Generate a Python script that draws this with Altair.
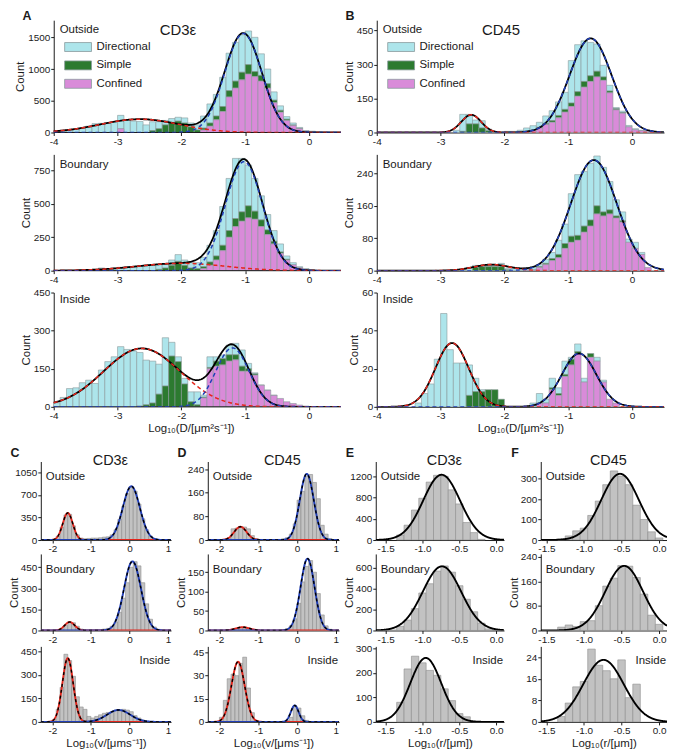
import altair as alt
import numpy as np
import pandas as pd

FONT = "Liberation Sans"
CYAN = "#ade5eb"
GREEN = "#2c7a30"
MAGENTA = "#d98bd9"
BAR_EDGE = "#8a9a9c"
GRAY = "#c2c2c2"
GRAY_EDGE = "#8c8c8c"
RED = "#e4261c"
BLUE = "#213fb8"
INK = "#1a1a1a"
MINUS_EXPR = "replace(datum.label, '\u2212', '-')"

CATS = ["Directional", "Simple", "Confined"]
BIN_W = 0.1

# ---------------- bin left edges ----------------
D_EDGES = [round(-4.0 + 0.1 * i, 1) for i in range(45)]    # log10 D, panels A/B
V_EDGES = [round(-2.1 + 0.1 * i, 1) for i in range(30)]    # log10 v, panels C/D
R_EDGES = [round(-1.55 + 0.1 * i, 2) for i in range(16)]   # log10 r, panels E/F

# ---------------- A: CD3e, log10 D ----------------
A_OUT_DIR = [15, 25, 40, 55, 70, 100, 140, 145, 150, 170, 210, 200, 180, 175, 120,
             140, 110, 70, 60, 60, 80, 60, 80, 190, 300, 340, 460, 590, 610, 590,
             530, 540, 340, 230, 130, 70, 40, 30, 15, 10, 15, 10, 5, 0, 0]
A_OUT_SIMP = [0] * 15 + [30, 60, 120, 160, 180, 150, 90, 40, 30, 50, 60, 80, 100, 110,
                         120, 150, 80, 90, 70, 40, 30, 20, 10, 5] + [0] * 6
A_OUT_CONF = [0] * 10 + [60] + [0] * 12 + [40, 100, 200, 330, 560, 700, 830, 920, 880, 810,
                                        700, 470, 320, 190, 110, 60, 20, 5, 0, 0, 0, 0]

A_BND_DIR = [0, 0, 0, 0, 5, 5, 10, 20, 15, 20, 25, 30, 30, 35, 40, 40, 35, 30, 40, 50,
             40, 40, 45, 70, 125, 190, 290, 390, 450, 400, 305, 245, 180, 115, 80, 60, 25,
             15, 8, 5, 1, 0, 0, 0, 0]
A_BND_SIMP = [0] * 16 + [10, 20, 40, 70, 40, 20, 15, 15, 25, 30, 40, 50, 60, 70, 90, 60,
                         50, 35, 20, 10, 5] + [0] * 8
A_BND_CONF = [0] * 23 + [15, 40, 80, 150, 250, 330, 370, 395, 385, 330, 270, 200, 130, 80,
                         45, 22, 10, 4] + [0] * 4

A_IN_DIR = [16, 37, 72, 75, 95, 105, 92, 145, 178, 197, 237, 226, 220, 211, 176, 165, 118,
            190, 54, 19, 22, 39, 51, 8, 42, 17, 14, 38, 45, 64, 21, 4, 1, 1, 1, 0,
            0, 0, 0, 0, 0, 0, 0, 0, 0]
A_IN_SIMP = [0] * 13 + [3, 8, 15, 50, 82, 200, 178, 90, 20, 8, 3, 5, 20, 25, 25, 20, 20,
                        10, 5] + [0] * 13
A_IN_CONF = [0] * 23 + [35, 150, 160, 165, 180, 185, 140, 140, 125, 85, 65, 45, 33, 20, 13,
                        7, 3] + [0] * 5

# ---------------- B: CD45, log10 D ----------------
B_OUT_DIR = [0] * 12 + [10, 75, 42, 17, 32, 7, 0, 0, 5, 5, 10, 15, 20, 22, 33, 43, 60, 75,
                        187, 207, 179, 147, 120, 51, 25, 5, 6, 6, 5, 2, 0] + [0] * 2
B_OUT_SIMP = [0] * 13 + [5, 38, 38, 20, 8] + [0] * 7 + [3, 5, 8, 10, 12, 15, 20, 25, 25, 25,
                                                      15, 8, 5, 3] + [0] * 6
B_OUT_CONF = [0] * 23 + [5, 10, 20, 35, 45, 65, 90, 115, 160, 200, 225, 245, 230, 175, 100,
                         85, 25, 12, 8, 5] + [0] * 2

B_BND_DIR = [0] * 13 + [3, 8, 5, 2, 2, 3, 8, 3, 5, 5, 5, 8, 5, 10, 15, 35, 48, 105, 150,
                        135, 140, 123, 110, 70, 40, 22, 8, 15, 5, 0] + [0] * 2
B_BND_SIMP = [0] * 15 + [8, 10, 10, 10, 10, 2] + [0] * 4 + [2, 3, 5, 8, 12, 15, 12, 15, 15,
                                                          20, 10, 10, 5, 3] + [0] * 6
B_BND_CONF = [0] * 23 + [2, 2, 8, 15, 25, 32, 55, 70, 75, 95, 110, 140, 135, 140, 130, 120,
                         70, 55, 40, 8] + [0] * 2

B_IN_DIR = [0] * 6 + [2, 7, 12, 25, 49, 30, 23, 23, 16, 7, 1] + [0] * 7 + \
           [2, 5, 2, 5, 3, 7, 1, 4, 2, 0, 2, 1] + [0] * 9
B_IN_SIMP = [0] * 14 + [6, 8, 8, 9, 9, 4] + [0] * 7 + [1, 1, 1, 3, 1, 0, 2] + [0] * 11
B_IN_CONF = [0] * 25 + [2, 2, 9, 6, 16, 22, 28, 13, 26, 24, 13, 4, 2] + [0] * 7

# ---------------- C/D: log10 v ----------------
C_OUT = [0, 10, 60, 200, 390, 400, 220, 80, 30, 20, 25, 30, 30, 35, 45, 50, 80, 160, 320,
         520, 720, 830, 760, 560, 330, 160, 60, 20, 5, 0]
C_BND = [0, 0, 3, 12, 35, 58, 55, 30, 10, 4, 3, 4, 5, 6, 10, 15, 30, 60, 130, 230, 340, 450,
         490, 460, 340, 190, 80, 25, 8, 0]
C_IN = [0, 15, 80, 220, 430, 390, 290, 160, 95, 80, 35, 25, 35, 45, 55, 60, 65, 75, 70, 80,
        75, 65, 40, 25, 12, 4, 0, 0, 0, 0]
D_OUT = [0, 0, 3, 8, 38, 40, 45, 44, 38, 15, 5, 2, 1, 0, 1, 1, 2, 4, 8, 20, 55, 135, 165,
         215, 222, 195, 140, 50, 20, 5]
D_BND = [0, 0, 0, 0, 3, 5, 8, 8, 6, 3, 1, 0, 0, 0, 0, 0, 0, 2, 5, 12, 30, 70, 125, 165, 180,
         150, 95, 40, 12, 3]
D_IN = [0, 3, 14, 28, 31, 30, 38, 42, 22, 6, 1, 0, 0, 0, 0, 0, 0, 0, 1, 3, 10, 9, 4, 1, 0,
        0, 0, 0, 0, 0]

# ---------------- E/F: log10 r ----------------
E_OUT = [0, 0, 95, 280, 565, 787, 1092, 1220, 1200, 946, 680, 330, 140, 13, 0, 0]
E_BND = [0, 5, 40, 100, 210, 360, 449, 571, 620, 560, 430, 300, 180, 70, 15, 0]
E_IN = [0, 0, 80, 216, 268, 241, 210, 190, 135, 87, 34, 21, 0, 0, 0, 0]
F_OUT = [0, 0, 5, 20, 45, 58, 120, 190, 270, 337, 312, 270, 170, 100, 40, 10]
F_BND = [0, 0, 11, 18, 13, 29, 32, 81, 145, 171, 212, 210, 173, 119, 50, 20]
F_IN = [0, 0, 2, 7, 13, 15, 27, 21, 19, 16, 23, 9, 14, 0, 0, 0]

# ---------------- Gaussian fit parameters (amplitude, mean, sd) ----------------
FIT_A = [[(210, -2.65, 0.62), (1560, -1.03, 0.29)],
         [(55, -2.0, 0.68), (815, -1.02, 0.29)],
         [(230, -2.62, 0.60), (232, -1.20, 0.26)]]
FIT_B = [[(78, -2.52, 0.155), (415, -0.65, 0.33)],
         [(15, -2.2, 0.28), (273, -0.60, 0.36)],
         [(33.5, -2.82, 0.26), (28, -0.83, 0.27)]]
FIT_C = [[(420, -1.6, 0.13), (835, 0.05, 0.22)],
         [(60, -1.55, 0.13), (492, 0.08, 0.22)],
         [(405, -1.6, 0.14), (76, -0.28, 0.30)]]
FIT_D = [[(45, -1.46, 0.16), (224, 0.25, 0.18)],
         [(8.5, -1.4, 0.18), (185, 0.27, 0.18)],
         [(39, -1.52, 0.17), (10.7, -0.06, 0.10)]]
FIT_E = [[(1230, -0.74, 0.25)], [(616, -0.735, 0.26)], [(261, -0.955, 0.21)]]
FIT_F = [[(323, -0.52, 0.25)], [(211, -0.465, 0.25)], [(23, -0.74, 0.27)]]

ONE = pd.DataFrame({"k": [0]})


def gauss(x, a, m, s):
    return a * np.exp(-0.5 * ((x - m) / s) ** 2)


def curve_frames(fits, lo, hi):
    xs = np.linspace(lo, hi, 400)
    comps = [gauss(xs, *p) for p in fits]
    total = np.sum(comps, axis=0)
    frames = [pd.DataFrame({"x0": xs, "y0": c}) for c in comps]
    return frames, pd.DataFrame({"x0": xs, "y0": total})


def text(txt, x, y, size=11.5, align="left", bold=False, color=INK):
    kw = dict(text=txt, font=FONT, fontSize=size, align=align, baseline="middle", color=color)
    if bold:
        kw["fontWeight"] = "bold"
    return alt.Chart(ONE).mark_text(**kw).encode(x=alt.value(x), y=alt.value(y))


def top_panel(dirv, simp, conf, ydom, yticks, fits, label, label_y, width, height,
              shift=0, legend=False, title=None, letter=None, xtitle=None):
    n = len(D_EDGES)
    x1 = [round(e + BIN_W, 2) for e in D_EDGES]
    df = pd.DataFrame({
        "x0": D_EDGES * 3,
        "x1": x1 * 3,
        "count": list(dirv) + list(simp) + list(conf),
        "cat": ["Directional"] * n + ["Simple"] * n + ["Confined"] * n,
        "ord": [2] * n + [1] * n + [0] * n,
    })
    xlo = -4.0 - shift * 4.5 / (width - shift) if shift else -4.0
    xscale = alt.Scale(domain=[xlo, 0.5], nice=False, zero=False)
    yscale = alt.Scale(domain=list(ydom), nice=False)
    xk = dict(values=[-4, -3, -2, -1, 0], format="d", labelExpr=MINUS_EXPR,
              title=xtitle, titlePadding=2)
    if shift:
        xk["domain"] = False
    xaxis = alt.Axis(**xk)
    yk = dict(values=yticks, format="d", title="Count", titlePadding=2)
    if shift:
        yk["offset"] = -shift
    yaxis = alt.Axis(**yk)
    X = alt.X("x0:Q", scale=xscale, axis=xaxis)
    Y = alt.Y("y0:Q", scale=yscale, axis=yaxis)

    bars = alt.Chart(df).transform_filter("datum.count > 0").transform_stack(
        stack="count", groupby=["x0"], as_=["y0", "y1"],
        sort=[alt.SortField("ord", order="ascending")]
    ).mark_rect(stroke=BAR_EDGE, strokeWidth=0.6).encode(
        x=X, x2="x1:Q", y=Y, y2="y1:Q",
        color=alt.Color("cat:N", scale=alt.Scale(domain=CATS, range=[CYAN, GREEN, MAGENTA]),
                        legend=None),
    )
    layers = [bars]
    if shift:
        base = pd.DataFrame({"x0": [-4.0], "x1": [0.5], "y0": [0.0]})
        layers.append(alt.Chart(base).mark_rule(color=INK, strokeWidth=1).encode(
            x=X, x2="x1:Q", y=Y))
    comps, total = curve_frames(fits, -4.0, 0.5)
    layers.append(alt.Chart(total).mark_line(color="black", strokeWidth=1.8, clip=True)
                  .encode(x=X, y=Y))
    for cdf, col in zip(comps, [RED, BLUE]):
        layers.append(alt.Chart(cdf).mark_line(color=col, strokeWidth=1.5, strokeDash=[4, 3],
                                               clip=True).encode(x=X, y=Y))
    layers.append(text(label, 6 + shift, label_y))
    if title:
        layers.append(text(title, 125 + shift, 10, size=15, align="center"))
    if letter:
        layers.append(text(letter, -27 + shift, -4, size=12.5, align="center", bold=True))
    if legend:
        for k, (name, col) in enumerate(zip(CATS, [CYAN, GREEN, MAGENTA])):
            yc = [27, 45.5, 64][k]
            layers.append(alt.Chart(ONE).mark_rect(fill=col, stroke=BAR_EDGE, strokeWidth=0.8)
                          .encode(x=alt.value(11 + shift), x2=alt.value(38 + shift),
                                  y=alt.value(yc - 4.5), y2=alt.value(yc + 4.5)))
            layers.append(text(name, 43 + shift, yc, size=11.5))
    return alt.layer(*layers).properties(width=width, height=height)


def bot_panel(edges, counts, ydom, yticks, xdom, xticks, fmt, fits, label, width, height,
              count_title=False, xtitle=None, title=None, title_x=70, letter=None):
    x1 = [round(e + BIN_W, 2) for e in edges]
    df = pd.DataFrame({"x0": edges, "x1": x1, "count": counts})
    xscale = alt.Scale(domain=list(xdom), nice=False, zero=False)
    yscale = alt.Scale(domain=list(ydom), nice=False)
    xaxis = alt.Axis(values=xticks, format=fmt, labelExpr=MINUS_EXPR, title=xtitle,
                     titlePadding=2)
    yaxis = alt.Axis(values=yticks, format="d", title="Count" if count_title else None,
                     titlePadding=1)
    X = alt.X("x0:Q", scale=xscale, axis=xaxis)
    Y = alt.Y("y0:Q", scale=yscale, axis=yaxis)
    bars = alt.Chart(df).transform_filter("datum.count > 0").transform_stack(
        stack="count", groupby=["x0"], as_=["y0", "y1"]
    ).mark_rect(fill=GRAY, stroke=GRAY_EDGE, strokeWidth=0.6).encode(
        x=X, x2="x1:Q", y=Y, y2="y1:Q")
    layers = [bars]
    comps, total = curve_frames(fits, xdom[0], xdom[1])
    if len(fits) > 1:
        for cdf, col in zip(comps, [RED, BLUE]):
            layers.append(alt.Chart(cdf).mark_line(color=col, strokeWidth=1.9, clip=True)
                          .encode(x=X, y=Y))
        layers.append(alt.Chart(total).mark_line(color="black", strokeWidth=1.4,
                                                 strokeDash=[3, 3], clip=True)
                      .encode(x=X, y=Y))
    else:
        layers.append(alt.Chart(total).mark_line(color="black", strokeWidth=1.9, clip=True)
                      .encode(x=X, y=Y))
    if label == "Inside":
        layers.append(text(label, width - 1, 15, align="right"))
    else:
        layers.append(text(label, 5, 16))
    if title:
        layers.append(text(title, title_x, 0, size=14.5, align="center"))
    if letter:
        layers.append(text(letter, -26, -9, size=12.5, align="center", bold=True))
    return alt.layer(*layers).properties(width=width, height=height)


XT_D = "Log\u2081\u2080(D/[\u03bcm\u00b2s\u207b\u00b9])"
XT_V = "Log\u2081\u2080(v/[\u03bcms\u207b\u00b9])"
XT_R = "Log\u2081\u2080(r/[\u03bcm])"

WA, WB = 302, 289
HT = [113, 117, 115]
SH = 13

A1 = top_panel(A_OUT_DIR, A_OUT_SIMP, A_OUT_CONF, (0, 1770), [0, 500, 1000, 1500], FIT_A[0],
               "Outside", 10, WA, HT[0], shift=SH, legend=True, title="CD3\u03b5", letter="A")
A2 = top_panel(A_BND_DIR, A_BND_SIMP, A_BND_CONF, (0, 870), [0, 250, 500, 750], FIT_A[1],
               "Boundary", 11, WA, HT[1], shift=SH)
A3 = top_panel(A_IN_DIR, A_IN_SIMP, A_IN_CONF, (0, 450), [0, 150, 300, 450], FIT_A[2],
               "Inside", 8, WA, HT[2], shift=SH, xtitle=XT_D)
B1 = top_panel(B_OUT_DIR, B_OUT_SIMP, B_OUT_CONF, (0, 495), [0, 150, 300, 450], FIT_B[0],
               "Outside", 10, WB, HT[0], legend=True, title="CD45", letter="B")
B2 = top_panel(B_BND_DIR, B_BND_SIMP, B_BND_CONF, (0, 287), [0, 80, 160, 240], FIT_B[1],
               "Boundary", 11, WB, HT[1])
B3 = top_panel(B_IN_DIR, B_IN_SIMP, B_IN_CONF, (0, 60), [0, 20, 40, 60], FIT_B[2],
               "Inside", 8, WB, HT[2], xtitle=XT_D)

HB = [79, 77, 76]
WC, WD, WE, WF = 131, 132, 129, 127
VX = (-2.3, 1.08)
VT = [-2, -1, 0, 1]
RT = [-1.5, -1.0, -0.5, 0.0]
EX = (-1.634, 0.107)
FX = (-1.575, 0.105)

C1 = bot_panel(V_EDGES, C_OUT, (0, 1220), [0, 350, 700, 1050], VX, VT, "d", FIT_C[0], "Outside",
               WC, HB[0], title="CD3\u03b5", title_x=70, letter="C")
C2 = bot_panel(V_EDGES, C_BND, (0, 545), [0, 150, 300, 450], VX, VT, "d", FIT_C[1], "Boundary",
               WC, HB[1], count_title=True)
C3 = bot_panel(V_EDGES, C_IN, (0, 480), [0, 150, 300, 450], VX, VT, "d", FIT_C[2], "Inside",
               WC, HB[2], xtitle=XT_V)
D1 = bot_panel(V_EDGES, D_OUT, (0, 266), [0, 80, 160, 240], VX, VT, "d", FIT_D[0], "Outside",
               WD, HB[0], title="CD45", title_x=75, letter="D")
D2 = bot_panel(V_EDGES, D_BND, (0, 197), [0, 50, 100, 150], VX, VT, "d", FIT_D[1], "Boundary",
               WD, HB[1], count_title=True)
D3 = bot_panel(V_EDGES, D_IN, (0, 49), [0, 15, 30, 45], VX, VT, "d", FIT_D[2], "Inside",
               WD, HB[2], xtitle=XT_V)
E1 = bot_panel(R_EDGES, E_OUT, (0, 1480), [0, 400, 800, 1200], EX, RT, ".1f", FIT_E[0], "Outside",
               WE, HB[0], title="CD3\u03b5", title_x=69, letter="E")
E2 = bot_panel(R_EDGES, E_BND, (0, 735), [0, 200, 400, 600], EX, RT, ".1f", FIT_E[1], "Boundary",
               WE, HB[1], count_title=True)
E3 = bot_panel(R_EDGES, E_IN, (0, 308), [0, 100, 200, 300], EX, RT, ".1f", FIT_E[2], "Inside",
               WE, HB[2], xtitle=XT_R)
F1 = bot_panel(R_EDGES, F_OUT, (0, 383), [0, 100, 200, 300], FX, RT, ".1f", FIT_F[0], "Outside",
               WF, HB[0], title="CD45", title_x=68, letter="F")
F2 = bot_panel(R_EDGES, F_BND, (0, 250), [0, 80, 160, 240], FX, RT, ".1f", FIT_F[1], "Boundary",
               WF, HB[1], count_title=True)
F3 = bot_panel(R_EDGES, F_IN, (0, 28), [0, 8, 16, 24], FX, RT, ".1f", FIT_F[2], "Inside",
               WF, HB[2], xtitle=XT_R)

r1, r2, r3 = [alt.hconcat(a, b, spacing=36, bounds="flush")
              for a, b in [(A1, B1), (A2, B2), (A3, B3)]]
bot_rows = [alt.hconcat(c, d, e, f, spacing=37, bounds="flush")
            for c, d, e, f in [(C1, D1, E1, F1), (C2, D2, E2, F2), (C3, D3, E3, F3)]]
top_block = alt.vconcat(alt.vconcat(r1, r2, spacing=8), r3, spacing=3)
bot_block = alt.vconcat(*bot_rows, spacing=-2)

chart = alt.vconcat(top_block, bot_block, spacing=12).properties(
    padding={"left": 0, "top": 0, "right": 0, "bottom": 0}
).configure_view(stroke=None).configure_axis(
    domainColor=INK, domainWidth=1, tickColor=INK, tickWidth=1, tickSize=3,
    labelColor=INK, labelFont=FONT, labelFontSize=10, labelPadding=1, labelFlush=False,
    titleFont=FONT, titleFontSize=11.5, titleFontWeight="normal", titleColor=INK, grid=False,
)

chart.save("out.html", embed_options={"renderer": "svg", "actions": False})
